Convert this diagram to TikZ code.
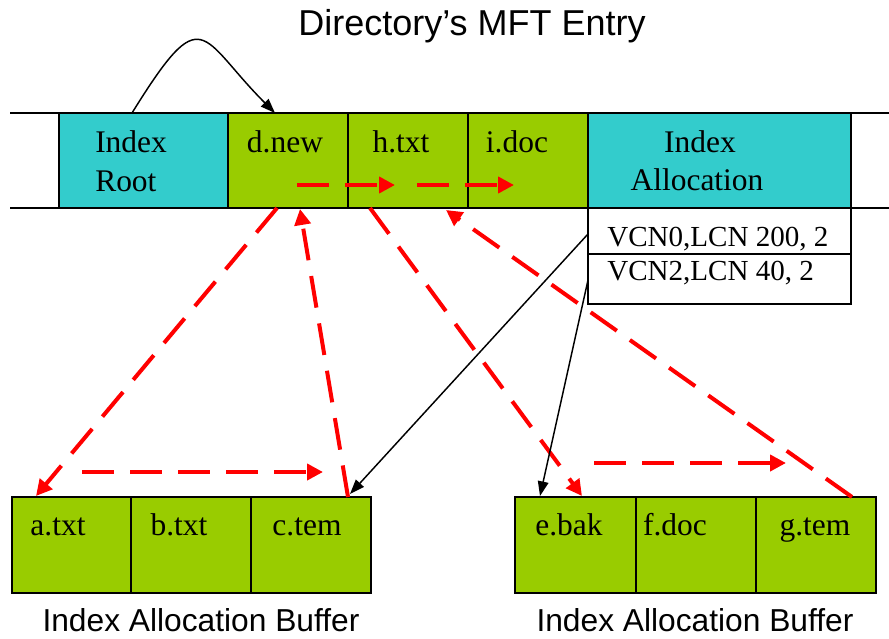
\documentclass[tikz,border=0pt]{standalone}
\usepackage{fontspec}
\setmainfont{Liberation Serif}
\setsansfont{Liberation Sans}
\usetikzlibrary{arrows.meta,fit}
\definecolor{idxcyan}{HTML}{33CCCC}
\definecolor{entgreen}{HTML}{99CC00}
\begin{document}
\begin{tikzpicture}[x=0.75pt,y=-0.75pt,
  cell/.style={draw=black, line width=1.2pt, inner sep=0pt, rectangle},
  rootcell/.style={cell, fill=idxcyan},
  entry/.style={cell, fill=entgreen},
  runcell/.style={cell, fill=white},
  rail/.style={draw=black, line width=1.6pt},
  lbl/.style={font=\fontsize{23.6}{28}\selectfont, inner sep=0pt, anchor=base},
  runlbl/.style={font=\fontsize{21.8}{26}\selectfont, inner sep=0pt, anchor=base},
  caption/.style={font=\sffamily\fontsize{23.8}{28}\selectfont, inner sep=0pt, anchor=base},
  heading/.style={font=\sffamily\fontsize{27}{32}\selectfont, inner sep=0pt, anchor=base},
  link/.style={draw=red, line width=3pt, dash pattern=on 24pt off 12pt,
    -{Triangle[length=12pt,width=12pt]}},
  ptr/.style={draw=black, line width=1.1pt, -{Triangle[length=11pt,width=8pt]}}
]
\useasboundingbox (0,0) rectangle (889,639);

% title
\node[heading] (title) at (472,36) {Directory’s MFT Entry};

% MFT entry row
\node[rootcell, fit={(59,113) (228,208)}] (root) {};
\node[entry, fit={(228,113) (348,208)}] (dnew) {};
\node[entry, fit={(348,113) (468,208)}] (htxt) {};
\node[entry, fit={(468,113) (588,208)}] (idoc) {};
\node[rootcell, fit={(588,113) (851,208)}] (alloc) {};
\draw[rail] (10,113) -- (889,113);
\draw[rail] (10,208) -- (889,208);

\node[lbl, anchor=base west] (troot1) at (95,152) {Index};
\node[lbl, anchor=base west] (troot2) at (95,191) {Root};
\node[lbl] (tdnew) at (285,152) {d.new};
\node[lbl] (thtxt) at (401,152) {h.txt};
\node[lbl] (tidoc) at (517,152) {i.doc};
\node[lbl] (talloc1) at (700,152) {Index};
\node[lbl] (talloc2) at (697,190) {Allocation};

% run list
\node[runcell, fit={(588,208) (851,254)}] (run0) {};
\node[runcell, fit={(588,254) (851,304)}] (run2) {};
\node[runlbl, anchor=base west] (trun0) at (607,246) {VCN0,LCN 200, 2};
\node[runlbl, anchor=base west] (trun2) at (607,280) {VCN2,LCN 40, 2};

% left index allocation buffer
\node[entry, fit={(12,497) (131,593)}] (atxt) {};
\node[entry, fit={(131,497) (251,593)}] (btxt) {};
\node[entry, fit={(251,497) (371,593)}] (ctem) {};
\node[lbl] (tatxt) at (58,535) {a.txt};
\node[lbl] (tbtxt) at (179,535) {b.txt};
\node[lbl] (tctem) at (307,535) {c.tem};
\node[caption] (capl) at (201,631) {Index Allocation Buffer};

% right index allocation buffer
\node[entry, fit={(515,497) (636,593)}] (ebak) {};
\node[entry, fit={(636,497) (756,593)}] (fdoc) {};
\node[entry, fit={(756,497) (876,593)}] (gtem) {};
\node[lbl] (tebak) at (569,535) {e.bak};
\node[lbl] (tfdoc) at (675,535) {f.doc};
\node[lbl] (tgtem) at (815,535) {g.tem};
\node[caption] (capr) at (695,631) {Index Allocation Buffer};

% connector end points
\coordinate (rootTop) at (132,113);
\coordinate (dnewTop) at (275,113);
\coordinate (dnewOut) at (297,185);
\coordinate (htxtIn) at (395,185);
\coordinate (htxtOut) at (417,185);
\coordinate (idocIn) at (514,185);
\coordinate (dnewDown) at (277,208);
\coordinate (dnewUp) at (300,209);
\coordinate (htxtDown) at (370,208);
\coordinate (idocUp) at (446,210);
\coordinate (atxtTop) at (36,496);
\coordinate (atxtOut) at (82,472);
\coordinate (ctemIn) at (323,472);
\coordinate (ctemTop) at (348,497);
\coordinate (ctemPtr) at (350,494);
\coordinate (ebakTop) at (582,496);
\coordinate (ebakOut) at (594,463);
\coordinate (gtemIn) at (786,463);
\coordinate (gtemTop) at (852,497);
\coordinate (ebakPtr) at (540,496);
\coordinate (run0Left) at (588,234);
\coordinate (run2Left) at (588,280);

% index root points to first entry
\draw[ptr] (rootTop) .. controls (204,-3) and (199,37) .. (dnewTop);

% B-tree links
\draw[link] (dnewOut) -- (htxtIn);
\draw[link] (htxtOut) -- (idocIn);
\draw[link] (dnewDown) -- (atxtTop);
\draw[link] (atxtOut) -- (ctemIn);
\draw[link] (ctemTop) -- (dnewUp);
\draw[link] (htxtDown) -- (ebakTop);
\draw[link] (ebakOut) -- (gtemIn);
\draw[link] (gtemTop) -- (idocUp);

% run list pointers
\draw[ptr] (run0Left) -- (ctemPtr);
\draw[ptr] (run2Left) -- (ebakPtr);
\end{tikzpicture}
\end{document}
